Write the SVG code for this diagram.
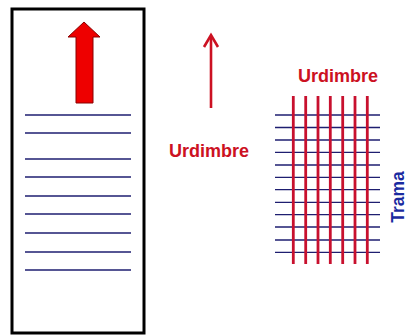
<svg xmlns="http://www.w3.org/2000/svg" width="408" height="336" viewBox="0 0 408 336">
<style>
.weft{stroke:#1e1e70;stroke-width:1.3}
.warp{stroke:#c8102e;stroke-width:2.8}
.lbl{font-family:"Liberation Sans",Arial,sans-serif;font-weight:bold;font-size:18px}
.red{fill:#cc1122}
.blue{fill:#1a2aa0}
</style>
<rect width="408" height="336" fill="#ffffff"/>
<g id="fabric">
<rect x="12" y="9" width="132" height="324" fill="#ffffff" stroke="#000000" stroke-width="3"/>
<path d="M84 22 L100 37 L93 37 L93 103 L76 103 L76 37 L68 37 Z" fill="#ee0000" stroke="#8a0000" stroke-width="1"/>
<g class="weft">
<line x1="25" y1="115" x2="131" y2="115"/>
<line x1="25" y1="133" x2="131" y2="133"/>
<line x1="25" y1="159" x2="131" y2="159"/>
<line x1="25" y1="177" x2="131" y2="177"/>
<line x1="25" y1="196" x2="131" y2="196"/>
<line x1="25" y1="214" x2="131" y2="214"/>
<line x1="25" y1="233" x2="131" y2="233"/>
<line x1="25" y1="252" x2="131" y2="252"/>
<line x1="25" y1="270" x2="131" y2="270"/>
</g>
</g>
<g id="warp-arrow">
<line x1="211" y1="108" x2="211" y2="36" stroke="#cc1122" stroke-width="2.6"/>
<polyline points="204,47 211,35 218,47" fill="none" stroke="#cc1122" stroke-width="2.6"/>
<text class="lbl red" x="209" y="157" text-anchor="middle">Urdimbre</text>
</g>
<g id="weave">
<text class="lbl red" x="338" y="82" text-anchor="middle">Urdimbre</text>
<g class="weft">
<line x1="275" y1="115" x2="380" y2="115"/>
<line x1="275" y1="127.5" x2="380" y2="127.5"/>
<line x1="275" y1="140" x2="380" y2="140"/>
<line x1="275" y1="152.3" x2="380" y2="152.3"/>
<line x1="275" y1="165" x2="380" y2="165"/>
<line x1="275" y1="177.3" x2="380" y2="177.3"/>
<line x1="275" y1="189.7" x2="380" y2="189.7"/>
<line x1="275" y1="202.3" x2="380" y2="202.3"/>
<line x1="275" y1="214.7" x2="380" y2="214.7"/>
<line x1="275" y1="227" x2="380" y2="227"/>
<line x1="275" y1="240" x2="380" y2="240"/>
<line x1="275" y1="252.3" x2="380" y2="252.3"/>
</g>
<g class="warp">
<line x1="293.3" y1="96" x2="293.3" y2="264"/>
<line x1="305.7" y1="96" x2="305.7" y2="264"/>
<line x1="318" y1="96" x2="318" y2="264"/>
<line x1="330.3" y1="96" x2="330.3" y2="264"/>
<line x1="342.7" y1="96" x2="342.7" y2="264"/>
<line x1="355" y1="96" x2="355" y2="264"/>
<line x1="367.3" y1="96" x2="367.3" y2="264"/>
</g>
<text class="lbl blue" transform="translate(404 197) rotate(-90)" text-anchor="middle" style="font-size:17.5px">Trama</text>
</g>
</svg>
